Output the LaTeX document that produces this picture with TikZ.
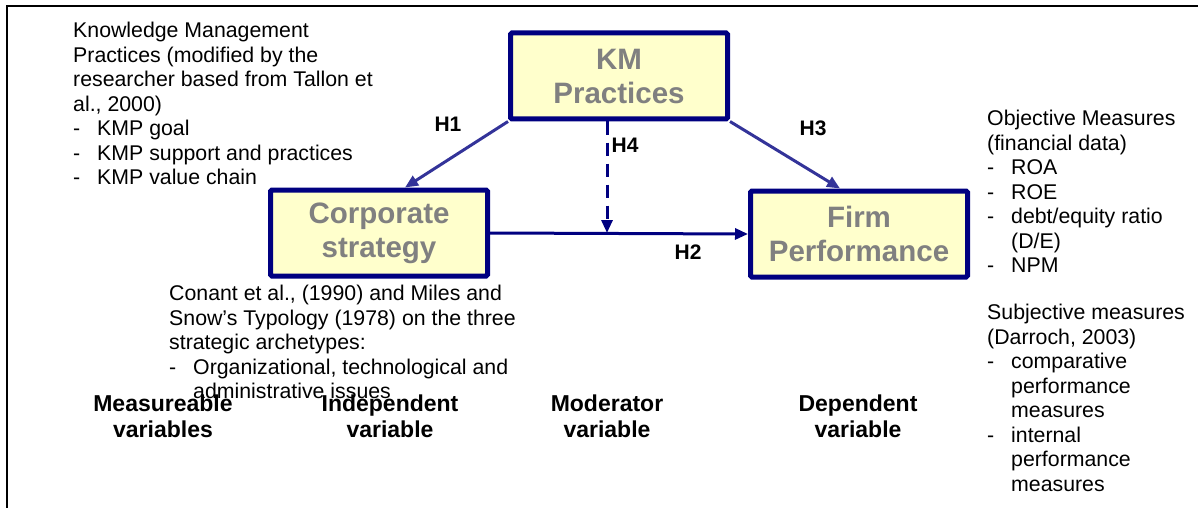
\documentclass[tikz,border=0pt]{standalone}
\usepackage{fontspec}
\setmainfont{Liberation Sans}
\usetikzlibrary{arrows.meta}
\definecolor{kmnavy}{HTML}{000080}
\definecolor{kmblue}{HTML}{333399}
\definecolor{kmfill}{HTML}{FFFFCC}
\definecolor{kmgray}{HTML}{808080}
\newcommand{\dashitem}[1]{\makebox[24pt][l]{-}#1}
\newcommand{\dashcont}[1]{\hspace*{24pt}#1}
\tikzset{
  varbox/.style={draw=kmnavy, line width=5pt, fill=kmfill, rounded corners=1.5pt,
    text=kmgray, font=\fontsize{29.5}{34}\selectfont\bfseries, align=center,
    minimum width=217pt, minimum height=86pt, inner sep=0pt},
  notes/.style={anchor=north west, inner sep=0pt, align=left,
    font=\fontsize{21.3}{24.5}\selectfont},
  hyp/.style={font=\fontsize{21}{24}\selectfont\bfseries, inner sep=0pt},
  kind/.style={font=\fontsize{23}{26}\selectfont\bfseries, align=center, inner sep=0pt},
  link/.style={line width=3pt, -{Triangle[length=13pt,width=11pt]}}
}
\begin{document}
\begin{tikzpicture}[x=1pt,y=-1pt]
	\useasboundingbox (0,0) rectangle (1198,508);
	\draw[line width=2.5pt] (7,508) -- (7,6) -- (1198,6);
	% the three constructs
	\node[varbox] (km) at (619,76) {KM\\Practices};
	\node[varbox] (corp) at (379,233) {Corporate\\strategy};
	\node[varbox] (firm) at (859,234) {Firm\\Performance};
	\coordinate (mod) at (607,233);
	% hypotheses
	\draw[link, kmblue] (km.south west) -- ([xshift=26pt]corp.north);
	\draw[link, kmblue] (km.south east) -- ([xshift=-19pt]firm.north);
	\draw[link, kmnavy] (corp.east) -- (firm.west);
	\draw[link, kmnavy, dash pattern=on 13pt off 8pt] (mod |- km.south) -- (mod);
	\node[hyp] (h1) at (448,124) {H1};
	\node[hyp] (h4) at (625,145) {H4};
	\node[hyp] (h3) at (813,128) {H3};
	\node[hyp] (h2) at (688,252) {H2};
	% measures
	\node[notes] (kmp) at (73,22) {Knowledge Management\\
		Practices (modified by the\\
		researcher based from Tallon et\\
		al., 2000)\\
		\dashitem{KMP goal}\\
		\dashitem{KMP support and practices}\\
		\dashitem{KMP value chain}};
	\node[notes] (cs) at (169,285) {Conant et al., (1990) and Miles and\\
		Snow’s Typology (1978) on the three\\
		strategic archetypes:\\
		\dashitem{Organizational, technological and}\\
		\dashcont{administrative issues}};
	\node[notes] (obj) at (987,110) {Objective Measures\\
		(financial data)\\
		\dashitem{ROA}\\
		\dashitem{ROE}\\
		\dashitem{debt/equity ratio}\\
		\dashcont{(D/E)}\\
		\dashitem{NPM}};
	\node[notes] (subj) at (987,304) {Subjective measures\\
		(Darroch, 2003)\\
		\dashitem{comparative}\\
		\dashcont{performance}\\
		\dashcont{measures}\\
		\dashitem{internal}\\
		\dashcont{performance}\\
		\dashcont{measures}};
	% variable types
	\node[kind] (mv) at (163,416) {Measureable\\variables};
	\node[kind] (iv) at (390,416) {Independent\\variable};
	\node[kind] (modv) at (607,416) {Moderator\\variable};
	\node[kind] (dv) at (858,416) {Dependent\\variable};
\end{tikzpicture}
\end{document}
